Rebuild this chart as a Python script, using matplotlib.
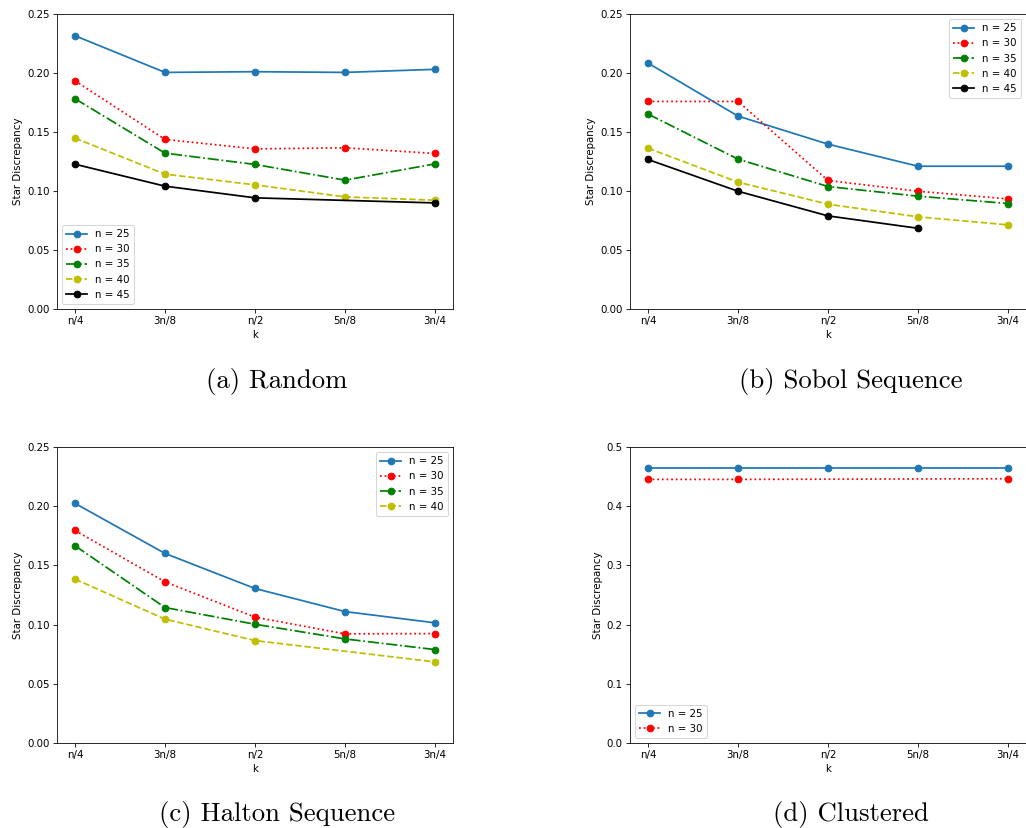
"""
Star discrepancy against k for four point sets (random, Sobol, Halton, clustered).
"""

import matplotlib
import matplotlib.pyplot as plt

matplotlib.use("Agg")

# the panels were made with default matplotlib sizes and shrunk,
# so draw at a low dpi to keep the same proportions
DPI = 74
plt.rcParams.update({"lines.linewidth": 1.7, "lines.markersize": 6.5})

k_labels = ["n/4", "3n/8", "n/2", "5n/8", "3n/4"]
series_names = ["n = 25", "n = 30", "n = 35", "n = 40", "n = 45"]
styles = [("tab:blue", "-"), ("r", ":"), ("g", "-."), ("y", "--"), ("k", "-")]

# (a) Random
random_x = [[0, 1, 2, 3, 4], [0, 1, 2, 3, 4], [0, 1, 2, 3, 4], [0, 1, 2, 3, 4], [0, 1, 2, 4]]
random_y = [
    [0.2316, 0.2005, 0.2011, 0.2005, 0.2031],
    [0.1934, 0.1437, 0.1357, 0.1366, 0.1318],
    [0.1782, 0.1321, 0.1225, 0.1092, 0.1230],
    [0.1448, 0.1143, 0.1052, 0.0950, 0.0922],
    [0.1227, 0.1041, 0.0942, 0.0899],
]

# (b) Sobol sequence
sobol_x = [[0, 1, 2, 3, 4], [0, 1, 2, 3, 4], [0, 1, 2, 3, 4], [0, 1, 2, 3, 4], [0, 1, 2, 3]]
sobol_y = [
    [0.2084, 0.1635, 0.1397, 0.1210, 0.1210],
    [0.1759, 0.1759, 0.1089, 0.0998, 0.0933],
    [0.1652, 0.1270, 0.1038, 0.0956, 0.0894],
    [0.1363, 0.1075, 0.0888, 0.0781, 0.0713],
    [0.1267, 0.0998, 0.0789, 0.0684],
]

# (c) Halton sequence
halton_x = [[0, 1, 2, 3, 4], [0, 1, 2, 3, 4], [0, 1, 2, 3, 4], [0, 1, 2, 4]]
halton_y = [
    [0.2024, 0.1601, 0.1305, 0.1110, 0.1015],
    [0.1795, 0.1361, 0.1063, 0.0922, 0.0924],
    [0.1666, 0.1144, 0.1003, 0.0879, 0.0789],
    [0.1384, 0.1046, 0.0865, 0.0685],
]

# (d) Clustered
clustered_x = [[0, 1, 2, 3, 4], [0, 1, 4]]
clustered_y = [
    [0.465, 0.465, 0.465, 0.465, 0.465],
    [0.4453, 0.4453, 0.4464],
]

captions = ["(a) Random", "(b) Sobol Sequence", "(c) Halton Sequence", "(d) Clustered"]


def plot_panel(ax, xs, ys, ymax, legend_loc):
    """One discrepancy panel"""
    for i, (x, y) in enumerate(zip(xs, ys)):
        color, ls = styles[i]
        ax.plot(x, y, ls, color=color, marker="o", label=series_names[i])
    ax.set_xticks(range(len(k_labels)))
    ax.set_xticklabels(k_labels)
    ax.set_ylim(0, ymax)
    ax.set_ylabel("Star Discrepancy")
    ax.set_xlabel("k")
    ax.legend(loc=legend_loc)


fig = plt.figure(figsize=(1026 / DPI, 828 / DPI), dpi=DPI)
W, H = 1026, 828
boxes = [(57, 14, 396, 295), (630, 14, 396, 295), (57, 447, 396, 296), (630, 447, 396, 296)]
axes = [fig.add_axes([l / W, 1 - (t + h) / H, w / W, h / H]) for l, t, w, h in boxes]

plot_panel(axes[0], random_x, random_y, 0.25, "lower left")
plot_panel(axes[1], sobol_x, sobol_y, 0.25, "upper right")
plot_panel(axes[2], halton_x, halton_y, 0.25, "upper right")
plot_panel(axes[3], clustered_x, clustered_y, 0.5, "lower left")

caption_pos = [(277, 381), (851, 381), (277, 815), (851, 815)]
for (cx, cy), text in zip(caption_pos, captions):
    fig.text(cx / W, 1 - cy / H, text, family="cmr10", fontsize=26,
             ha="center", va="center")

fig.savefig("out.png", dpi=DPI)
